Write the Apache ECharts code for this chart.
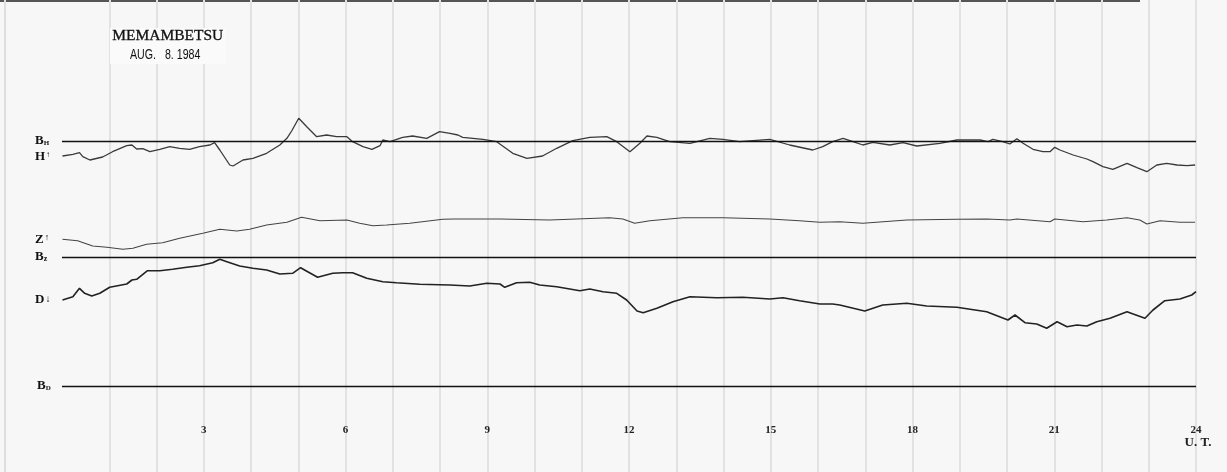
<!DOCTYPE html>
<html>
<head>
<meta charset="utf-8">
<script src="https://cdn.jsdelivr.net/npm/echarts@6/dist/echarts.min.js"></script>
<style>
html,body{margin:0;padding:0;background:#f7f7f7;}
#chart{width:1227px;height:472px;}
</style>
</head>
<body>
<div id="chart"></div>
<script>
// ---- data (hours UT, deflection from each trace's baseline, arbitrary chart units, up = positive) ----
const hHours = [0.01,0.23,0.37,0.44,0.59,0.86,1.07,1.37,1.48,1.58,1.71,1.86,2.07,2.28,2.49,2.70,2.91,3.13,3.23,3.34,3.55,3.62,3.83,4.04,4.33,4.61,4.76,4.86,5.01,5.18,5.39,5.60,5.81,6.03,6.15,6.37,6.56,6.73,6.79,6.94,7.21,7.42,7.72,7.99,8.21,8.38,8.48,8.91,9.20,9.54,9.84,10.17,10.47,10.81,11.17,11.53,11.74,12.02,12.23,12.38,12.59,12.86,13.29,13.71,13.99,14.34,14.98,15.40,15.89,16.10,16.31,16.53,16.74,16.95,17.16,17.52,17.80,18.09,18.58,18.94,19.43,19.60,19.70,19.91,20.06,20.21,20.34,20.55,20.76,20.91,21.01,21.12,21.40,21.69,21.82,22.03,22.24,22.54,22.75,22.96,23.17,23.38,23.60,23.81,23.98];
const hValues = [-14.5,-12.8,-11.2,-15.2,-18.5,-15.5,-10.2,-4.2,-3.5,-7.5,-7.2,-10.2,-7.8,-5.2,-6.8,-7.8,-5.2,-3.5,-1.2,-8.5,-23.5,-24.5,-18.5,-16.8,-11.8,-3.5,3.2,10.5,23.2,14.8,4.8,6.5,4.8,4.8,-0.2,-5.2,-7.8,-4.2,1.5,-0.2,4.2,5.5,3.2,9.8,8.2,6.5,4.2,2.2,-0.2,-11.8,-16.8,-14.5,-6.8,0.8,4.2,4.8,-0.2,-10.2,-1.8,5.5,4.2,-0.2,-1.8,3.2,2.2,-0.2,2.2,-3.5,-8.5,-5.2,-0.2,3.2,-0.2,-3.5,-0.8,-3.5,-1.2,-4.5,-1.8,1.5,1.5,-0.2,2.2,-0.2,-2.5,2.8,-1.8,-7.8,-10.2,-10.2,-5.8,-8.5,-13.5,-17.5,-20.2,-25.2,-27.8,-21.8,-26.2,-30.2,-23.5,-21.8,-23.5,-24.2,-23.5];

const zHours = [0.01,0.33,0.65,0.95,1.29,1.50,1.79,2.13,2.49,2.98,3.34,3.70,3.97,4.33,4.76,5.07,5.46,6.03,6.30,6.58,6.87,7.36,8.06,8.30,9.27,10.32,11.59,11.87,12.12,12.44,13.14,13.99,14.98,15.61,16.04,16.46,16.95,17.88,18.94,19.57,20.06,20.21,20.91,21.01,21.61,22.11,22.54,22.81,22.96,23.24,23.66,23.98];
const zValues = [17.7,16.3,11,9.7,7.7,8.7,12.7,14.3,18.7,23.7,27.7,26,27.7,32,34.7,39.7,36.3,37,33.7,31.3,32,33.7,37.7,38,38,37,39.3,38,33.7,36.3,39.3,39.3,38,36.3,34.7,35.3,33.7,37,37.7,38,37,38,35.3,38,35.3,37,39.3,37,33,36.3,34.7,34.7];

const dHours = [0.01,0.23,0.37,0.48,0.63,0.80,1.01,1.37,1.48,1.58,1.81,2.07,2.34,2.64,2.91,3.19,3.34,3.49,3.76,4.04,4.33,4.61,4.88,5.05,5.20,5.41,5.73,5.94,6.15,6.45,6.79,7.08,7.57,8.21,8.63,8.99,9.27,9.37,9.62,9.90,10.11,10.47,10.96,11.17,11.45,11.74,11.95,12.17,12.30,12.59,12.93,13.29,13.86,14.41,14.98,15.26,15.61,16.04,16.31,16.46,16.99,17.37,17.88,18.30,18.94,19.57,20.02,20.17,20.38,20.63,20.84,21.06,21.27,21.48,21.69,21.90,22.18,22.54,22.67,22.92,23.09,23.34,23.66,23.91,24.00];
const dValues = [86,89.3,97.7,92.7,90,92.7,98.7,102,106,106.7,115.3,115.3,116.7,118.7,120.3,123.3,126.7,124.3,120,117.7,116,112,112.7,118.3,114.3,108.7,112.7,113.3,113.3,107.7,104.3,103.3,101.7,101,100,102.7,102,98.7,103.3,103.7,101,99.3,95.3,97,94.3,92.7,86,75,73.3,77.7,84.3,89.3,88.3,88.7,87,88.3,85.3,82,82,81,75,81,82.7,80,78.7,74.3,66,71,63.3,62,57.7,64.3,59.3,61,60,64.3,67.7,74.3,72,67.7,76,85.3,87,91,94.3];

const hourTicks = [3,6,9,12,15,18,21,24];
const titleText = 'MEMAMBETSU';
const dateText = 'AUG.   8. 1984';

// ---- layout (chart units: 1 unit per pixel, measured from the bottom) ----
const BASE_H = 330.5, BASE_Z = 215, BASE_D = 86;

function pairs(hs, vs, base){ return hs.map((h,i)=>[h, base + vs[i]]); }

const chart = echarts.init(document.getElementById('chart'), null, {renderer:'canvas'});
const baseLine = (lvl) => ({
  silent:true, symbol:['none','none'], label:{show:false},
  lineStyle:{color:'#111', width:1.4, type:'solid'},
  emphasis:{disabled:true},
  data:[{yAxis:lvl}]
});
const serif = "'Liberation Serif','DejaVu Serif',serif";
const lab = (t, s, pad, ssize) => ({
  text:'{b|'+t+'}{s|'+s+'}',
  rich:{b:{font:"bold 13px "+serif, fill:'#111'}, s:{font:"bold "+ssize+"px "+serif, fill:'#111', padding:pad}}
});

chart.setOption({
  animation:false,
  backgroundColor:'#f7f7f7',
  grid:[
    {left:62, right:31, top:0, bottom:0},
    {left:62, right:31, top:0, bottom:48}
  ],
  xAxis:[
    {type:'value', gridIndex:0, min:0, max:24, interval:1,
     axisLine:{show:false}, axisTick:{show:false}, axisLabel:{show:false},
     splitLine:{show:true, showMinLine:false, lineStyle:{color:'#e2e2e2', width:2}}},
    {type:'value', gridIndex:1, min:0, max:24, interval:3,
     axisLine:{show:false}, axisTick:{show:false}, splitLine:{show:false},
     axisLabel:{show:true, margin:0, showMinLabel:false,
       formatter:(v)=> hourTicks.indexOf(v)<0 ? '' : (v===24 ? '{a|24}\n{b|U. T.}' : '{a|'+v+'}'),
       rich:{a:{fontFamily:serif, fontWeight:'bold', fontSize:11, color:'#222', lineHeight:12},
             b:{fontFamily:serif, fontWeight:'bold', fontSize:13, color:'#222', lineHeight:14, padding:[0,0,0,4]}}}}
  ],
  yAxis:[
    {type:'value', gridIndex:0, min:0, max:472, show:false},
    {type:'value', gridIndex:1, min:0, max:1, show:false}
  ],
  series:[
    {type:'line', name:'H', xAxisIndex:0, yAxisIndex:0, data:pairs(hHours,hValues,BASE_H),
     showSymbol:false, symbol:'none', lineStyle:{color:'#3a3a3a', width:1.3}, markLine:baseLine(BASE_H), z:3},
    {type:'line', name:'Z', xAxisIndex:0, yAxisIndex:0, data:pairs(zHours,zValues,BASE_Z),
     showSymbol:false, symbol:'none', lineStyle:{color:'#444', width:1.1}, markLine:baseLine(BASE_Z), z:3},
    {type:'line', name:'D', xAxisIndex:0, yAxisIndex:0, data:pairs(dHours,dValues,BASE_D),
     showSymbol:false, symbol:'none', lineStyle:{color:'#222', width:1.6}, markLine:baseLine(BASE_D), z:3}
  ],
  graphic:[
    {type:'rect', shape:{x:0,y:0,width:1140,height:2}, style:{fill:'#555'}, silent:true},
    {type:'rect', shape:{x:4,y:0,width:2,height:472}, style:{fill:'#dedede'}, silent:true},
    {type:'rect', shape:{x:110,y:28,width:116,height:36}, style:{fill:'#fafafa'}, silent:true, z:10},
    {type:'text', left:112, top:28, z:11, style:{text:titleText, font:"15.5px "+serif, fill:'#111', stroke:'#111', lineWidth:0.3}},
    {type:'text', x:130, y:48, z:11, scaleX:0.76, style:{text:dateText, font:"14px 'Liberation Sans',sans-serif", fill:'#111'}},
    {type:'text', left:35, top:134, style:lab('B','H',[5,0,0,0],7)},
    {type:'text', left:35, top:150, style:lab('H','↑',[0,0,4,1],8)},
    {type:'text', left:35, top:233, style:lab('Z','↑',[0,0,4,1],9)},
    {type:'text', left:35, top:250, style:lab('B','z',[5,0,0,0],8)},
    {type:'text', left:35, top:293, style:lab('D','↓',[0,0,0,1],10)},
    {type:'text', left:37, top:379, style:lab('B','D',[5,0,0,0],7)}
  ]
});
</script>
</body>
</html>
